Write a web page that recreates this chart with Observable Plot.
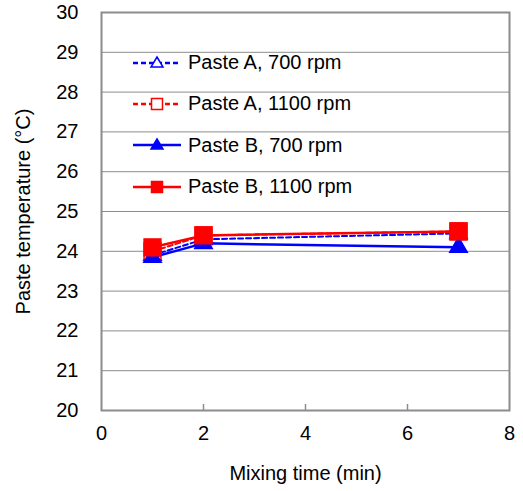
<!DOCTYPE html>
<html><head><meta charset="utf-8">
<script src="https://cdn.jsdelivr.net/npm/d3@7"></script>
<script src="https://cdn.jsdelivr.net/npm/@observablehq/plot@0.6"></script>
<style>
body{margin:0;background:#fff;font-family:"Liberation Sans",Arial,sans-serif;}
#wrap{position:relative;width:523px;height:491px;}
#legend{position:absolute;left:133px;top:42px;font-size:20px;color:#000;}
.item{display:flex;align-items:center;height:41.3px;}
.item span{margin-left:7px;}
</style>
</head><body>
<div id="wrap"><div id="chart"></div><div id="legend"></div></div>
<script>
const times = [1, 2, 7];
const pasteA700 = [23.9, 24.3, 24.45];
const pasteA1100 = [24.0, 24.4, 24.5];
const pasteB700 = [23.85, 24.2, 24.1];
const pasteB1100 = [24.1, 24.4, 24.5];
const xTicks = [0, 2, 4, 6, 8];
const yTicks = [20, 21, 22, 23, 24, 25, 26, 27, 28, 29, 30];

const series = [
  {name: "Paste A, 700 rpm", values: pasteA700, color: "#0000ff", dash: "5,3", symbol: "triangle", fill: "white", r: 6.5},
  {name: "Paste A, 1100 rpm", values: pasteA1100, color: "#ff0000", dash: "5,3", symbol: "square", fill: "white", r: 9.5},
  {name: "Paste B, 700 rpm", values: pasteB700, color: "#0000ff", dash: null, symbol: "triangle", fill: "#0000ff", r: 6.5},
  {name: "Paste B, 1100 rpm", values: pasteB1100, color: "#ff0000", dash: null, symbol: "square", fill: "#ff0000", r: 9.5}
];

const marks = [
  Plot.ruleY(yTicks.slice(1, -1), {stroke: "#8c8c8c", strokeWidth: 1}),
  Plot.ruleX(xTicks.slice(1, -1), {y1: 20, y2: 20.15, stroke: "#8c8c8c", strokeWidth: 1.5}),
  Plot.axisX({ticks: xTicks, tickSize: 0, tickPadding: 15, fontSize: 20, label: "Mixing time (min)", labelAnchor: "center", labelArrow: "none", labelOffset: 69}),
  Plot.axisY({ticks: yTicks, tickSize: 0, tickPadding: 23, fontSize: 20, label: "Paste temperature (°C)", labelAnchor: "center", labelArrow: "none", labelOffset: 86}),
  Plot.frame({stroke: "#8c8c8c", strokeWidth: 2})
];
for (const s of series) {
  const data = times.map((t, i) => ({t, v: s.values[i]}));
  marks.push(Plot.line(data, {x: "t", y: "v", stroke: s.color, strokeWidth: s.dash ? 2 : 2.5, strokeDasharray: s.dash}));
  marks.push(Plot.dot(data, {x: "t", y: "v", symbol: () => s.symbol, r: s.r, fill: s.fill, stroke: s.color, strokeWidth: 1.5}));
}

const chart = Plot.plot({
  width: 523, height: 491,
  marginLeft: 101, marginRight: 14, marginTop: 12, marginBottom: 81,
  style: {fontFamily: "Liberation Sans, Arial, sans-serif", fontSize: "20px", color: "#000", background: "white"},
  x: {domain: [0, 8]},
  y: {domain: [20, 30]},
  marks
});
document.getElementById("chart").appendChild(chart);

const legend = document.getElementById("legend");
for (const s of series) {
  const d = document.createElement("div");
  d.className = "item";
  const sym = s.symbol === "triangle"
    ? `<path d="M24,6 L30,16 L18,16 Z" fill="${s.fill === 'white' ? 'white' : s.color}" stroke="${s.color}" stroke-width="1.5"/>`
    : `<rect x="18.5" y="6.5" width="11" height="11" fill="${s.fill === 'white' ? 'white' : s.color}" stroke="${s.color}" stroke-width="1.5"/>`;
  d.innerHTML = `<svg width="48" height="24"><line x1="0" x2="48" y1="12" y2="12" stroke="${s.color}" stroke-width="2.5" ${s.dash ? 'stroke-dasharray="5,3"' : ''}/>${sym}</svg><span>${s.name}</span>`;
  legend.appendChild(d);
}
</script>
</body></html>
